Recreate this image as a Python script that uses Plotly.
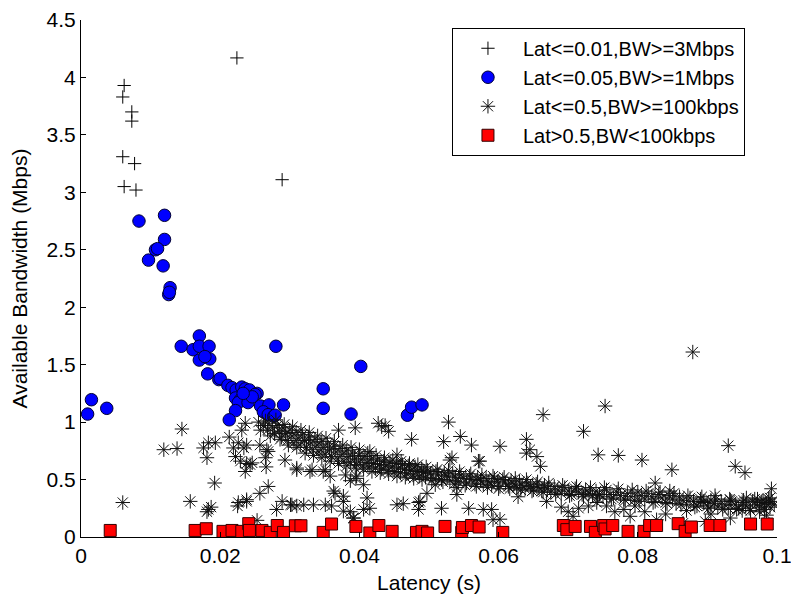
import plotly.graph_objects as go

# ---------------- data ----------------
plus_x = [0.0062, 0.0060, 0.0073, 0.0073, 0.0060, 0.0077, 0.0062, 0.0079, 0.0224, 0.0289]
plus_y = [3.93, 3.83, 3.70, 3.62, 3.31, 3.25, 3.05, 3.02, 4.17, 3.11]

circ_x = [0.00095, 0.0015, 0.0037, 0.00833, 0.0120, 0.0120, 0.0097, 0.0107, 0.0110, 0.0118,
          0.0128, 0.0126, 0.0127, 0.0144, 0.0170, 0.0161, 0.0170, 0.0184, 0.0170, 0.0185,
          0.0178, 0.0182, 0.0198, 0.0200, 0.0211, 0.0217, 0.0223, 0.0231, 0.0236, 0.0242,
          0.0253, 0.0250, 0.0222, 0.0229, 0.0238, 0.0226, 0.0240, 0.0222, 0.0213, 0.0258,
          0.0270, 0.0262, 0.0269, 0.0277, 0.0279, 0.0291, 0.0280, 0.0348, 0.0348, 0.0402,
          0.0388, 0.0469, 0.0475, 0.0490, 0.0246, 0.0233]
circ_y = [1.07, 1.195, 1.12, 2.75, 2.80, 2.59, 2.41, 2.50, 2.51, 2.36,
          2.17, 2.11, 2.13, 1.66, 1.75, 1.63, 1.66, 1.66, 1.54, 1.55,
          1.57, 1.42, 1.37, 1.38, 1.32, 1.30, 1.28, 1.305, 1.29, 1.28,
          1.25, 1.24, 1.21, 1.195, 1.18, 1.17, 1.17, 1.10, 1.02, 1.14,
          1.15, 1.09, 1.065, 1.05, 1.06, 1.15, 1.66, 1.29, 1.12, 1.485,
          1.07, 1.06, 1.13, 1.15, 1.22, 1.25]

# dense band of '*' points (first pass along the band)
band_x = [0.0255, 0.0262, 0.0268, 0.0270, 0.0275, 0.0278, 0.0282, 0.0285, 0.0288, 0.0290,
          0.0294, 0.0297, 0.0300, 0.0303, 0.0306, 0.0309, 0.0312, 0.0315, 0.0318, 0.0321,
          0.0324, 0.0327, 0.0330, 0.0333, 0.0336, 0.0339, 0.0342, 0.0345, 0.0348, 0.0351,
          0.0354, 0.0357, 0.0360, 0.0363, 0.0366, 0.0369, 0.0372, 0.0375, 0.0378, 0.0381,
          0.0384, 0.0387, 0.0390, 0.0393, 0.0396, 0.0399, 0.0402, 0.0405, 0.0408, 0.0411,
          0.0414, 0.0417, 0.0420, 0.0423, 0.0426, 0.0429, 0.0432, 0.0435, 0.0438, 0.0441,
          0.0444, 0.0447, 0.0450, 0.0453, 0.0456, 0.0459, 0.0462, 0.0465, 0.0468, 0.0471,
          0.0474, 0.0477, 0.0480, 0.0483, 0.0486, 0.0489, 0.0492, 0.0495, 0.0498, 0.0502,
          0.0506, 0.0510, 0.0514, 0.0518, 0.0522, 0.0526, 0.0530, 0.0534, 0.0538, 0.0542,
          0.0546, 0.0550, 0.0554, 0.0558, 0.0562, 0.0566, 0.0570, 0.0574, 0.0578, 0.0582,
          0.0586, 0.0590, 0.0594, 0.0598, 0.0602, 0.0606, 0.0610, 0.0614, 0.0618, 0.0622,
          0.0626, 0.0630, 0.0634, 0.0638, 0.0642, 0.0646, 0.0650, 0.0654, 0.0658, 0.0662,
          0.0666, 0.0670, 0.0675, 0.0680, 0.0685, 0.0690, 0.0695, 0.0700, 0.0705, 0.0710,
          0.0715, 0.0720, 0.0725, 0.0730, 0.0735, 0.0740, 0.0745, 0.0750, 0.0755, 0.0760,
          0.0765, 0.0770, 0.0775, 0.0780, 0.0785, 0.0790, 0.0795, 0.0800, 0.0805, 0.0810,
          0.0815, 0.0820, 0.0825, 0.0830, 0.0835, 0.0840, 0.0845, 0.0850, 0.0855, 0.0860,
          0.0865, 0.0870, 0.0875, 0.0880, 0.0885, 0.0890, 0.0895, 0.0900, 0.0905, 0.0910,
          0.0915, 0.0920, 0.0925, 0.0930, 0.0935, 0.0940, 0.0945, 0.0950, 0.0955, 0.0960,
          0.0965, 0.0970, 0.0975, 0.0980, 0.0985, 0.0990, 0.0993, 0.0988, 0.0978, 0.0968]
band_y = [1.00, 0.97, 0.93, 0.99, 0.95, 0.90, 0.97, 0.92, 0.87, 0.95,
          0.90, 0.84, 0.93, 0.88, 0.82, 0.91, 0.86, 0.80, 0.89, 0.84,
          0.78, 0.87, 0.82, 0.76, 0.85, 0.80, 0.74, 0.83, 0.78, 0.72,
          0.81, 0.76, 0.70, 0.79, 0.74, 0.68, 0.77, 0.72, 0.66, 0.75,
          0.70, 0.65, 0.73, 0.68, 0.63, 0.71, 0.67, 0.62, 0.70, 0.65,
          0.61, 0.68, 0.64, 0.60, 0.67, 0.63, 0.59, 0.66, 0.62, 0.58,
          0.65, 0.61, 0.57, 0.64, 0.60, 0.56, 0.63, 0.59, 0.55, 0.62,
          0.58, 0.54, 0.61, 0.57, 0.53, 0.59, 0.56, 0.52, 0.58, 0.55,
          0.51, 0.57, 0.54, 0.50, 0.56, 0.53, 0.49, 0.55, 0.52, 0.48,
          0.54, 0.51, 0.47, 0.53, 0.50, 0.46, 0.52, 0.49, 0.46, 0.51,
          0.48, 0.45, 0.51, 0.48, 0.44, 0.50, 0.47, 0.44, 0.49, 0.46,
          0.43, 0.48, 0.45, 0.42, 0.47, 0.44, 0.41, 0.46, 0.43, 0.40,
          0.45, 0.42, 0.39, 0.44, 0.41, 0.38, 0.43, 0.40, 0.37, 0.42,
          0.39, 0.37, 0.41, 0.38, 0.36, 0.40, 0.37, 0.35, 0.41, 0.37,
          0.34, 0.39, 0.36, 0.33, 0.38, 0.35, 0.32, 0.39, 0.36, 0.33,
          0.38, 0.35, 0.31, 0.37, 0.34, 0.30, 0.36, 0.33, 0.29, 0.35,
          0.32, 0.28, 0.34, 0.31, 0.27, 0.33, 0.30, 0.27, 0.32, 0.29,
          0.26, 0.31, 0.28, 0.25, 0.31, 0.28, 0.25, 0.30, 0.27, 0.25,
          0.31, 0.28, 0.26, 0.32, 0.29, 0.26, 0.31, 0.33, 0.30, 0.33]

# second pass along the band edges
band2_x = [0.0258, 0.0265, 0.0272, 0.0280, 0.0286, 0.0292, 0.0298, 0.0304, 0.0310, 0.0316,
           0.0322, 0.0328, 0.0334, 0.0340, 0.0346, 0.0352, 0.0358, 0.0364, 0.0370, 0.0376,
           0.0382, 0.0388, 0.0394, 0.0400, 0.0406, 0.0412, 0.0418, 0.0424, 0.0430, 0.0436,
           0.0442, 0.0448, 0.0454, 0.0460, 0.0466, 0.0472, 0.0478, 0.0484, 0.0490, 0.0496,
           0.0504, 0.0512, 0.0520, 0.0528, 0.0536, 0.0544, 0.0552, 0.0560, 0.0568, 0.0576,
           0.0584, 0.0592, 0.0600, 0.0608, 0.0616, 0.0624, 0.0632, 0.0640, 0.0648, 0.0656,
           0.0664, 0.0672, 0.0682, 0.0692, 0.0702, 0.0712, 0.0722, 0.0732, 0.0742, 0.0752,
           0.0762, 0.0772, 0.0782, 0.0792, 0.0802, 0.0812, 0.0822, 0.0832, 0.0842, 0.0852,
           0.0862, 0.0872, 0.0882, 0.0892, 0.0902, 0.0912, 0.0922, 0.0932, 0.0942, 0.0952,
           0.0962, 0.0972, 0.0982, 0.0990, 0.0996]
band2_y = [0.93, 1.01, 0.88, 1.02, 0.85, 0.98, 0.80, 0.96, 0.78, 0.93,
           0.73, 0.91, 0.71, 0.88, 0.69, 0.86, 0.66, 0.83, 0.64, 0.80,
           0.62, 0.78, 0.60, 0.76, 0.59, 0.73, 0.57, 0.71, 0.56, 0.69,
           0.55, 0.67, 0.53, 0.66, 0.52, 0.64, 0.51, 0.63, 0.50, 0.61,
           0.49, 0.59, 0.48, 0.58, 0.46, 0.57, 0.45, 0.55, 0.44, 0.54,
           0.43, 0.53, 0.42, 0.52, 0.42, 0.51, 0.41, 0.50, 0.40, 0.48,
           0.39, 0.47, 0.37, 0.45, 0.36, 0.44, 0.35, 0.43, 0.34, 0.43,
           0.33, 0.42, 0.32, 0.41, 0.31, 0.40, 0.30, 0.39, 0.29, 0.38,
           0.28, 0.36, 0.26, 0.35, 0.25, 0.33, 0.24, 0.33, 0.24, 0.32,
           0.23, 0.33, 0.24, 0.34, 0.28]

# scattered '*' points
scat_x = [0.0060, 0.0119, 0.0138, 0.0145, 0.0157, 0.0176, 0.0183, 0.0193, 0.0181, 0.0192,
          0.0183, 0.0181, 0.0187, 0.0213, 0.0236, 0.0231, 0.0219, 0.0226, 0.0234, 0.0238,
          0.0222, 0.0229, 0.0238, 0.0236, 0.0243, 0.0257, 0.0267, 0.0265, 0.0266, 0.0269,
          0.0257, 0.0238, 0.0225, 0.0253, 0.0226, 0.0238, 0.0246, 0.0269, 0.0293, 0.0310,
          0.0289, 0.0281, 0.0303, 0.0301, 0.0310, 0.0320, 0.0334, 0.0351, 0.0360, 0.0377,
          0.0332, 0.0351, 0.0310, 0.0329, 0.0348, 0.0358, 0.0380, 0.0395, 0.0394, 0.0370,
          0.0427, 0.0437, 0.0442, 0.0432, 0.0475, 0.0521, 0.0528, 0.0545, 0.0561, 0.0602,
          0.0533, 0.0571, 0.0454, 0.0415, 0.0509, 0.0497, 0.0540, 0.0540, 0.0365, 0.0377,
          0.0411, 0.0406, 0.0415, 0.0392, 0.0363, 0.0377, 0.0387, 0.0391, 0.0454, 0.0463,
          0.0485, 0.0485, 0.0487, 0.0518, 0.0557, 0.0578, 0.0590, 0.0602, 0.0592, 0.0628,
          0.0669, 0.0700, 0.0707, 0.0729, 0.0741, 0.0755, 0.0767, 0.0789, 0.0796, 0.0827,
          0.0865, 0.0897, 0.0933, 0.0825, 0.0846, 0.0894, 0.0911, 0.0933, 0.0956, 0.0983,
          0.0992, 0.0930, 0.0940, 0.0954, 0.0849, 0.0806, 0.0772, 0.0743, 0.0722, 0.0753,
          0.0664, 0.0640, 0.0645, 0.0640, 0.0655, 0.0660, 0.0879, 0.0406, 0.0387, 0.0396,
          0.0530, 0.0573, 0.0985, 0.0975, 0.0690, 0.0715, 0.0780, 0.0810, 0.0840, 0.0870,
          0.0905, 0.0950]
scat_y = [0.30, 0.76, 0.77, 0.94, 0.31, 0.775, 0.82, 0.82, 0.69, 0.47,
          0.24, 0.22, 0.26, 0.87, 0.99, 0.93, 0.775, 0.82, 0.775, 0.80,
          0.70, 0.66, 0.64, 0.57, 0.63, 0.80, 0.76, 0.69, 0.61, 0.44,
          0.38, 0.31, 0.27, 0.145, 0.30, 0.325, 0.645, 0.745, 0.67, 0.60,
          0.31, 0.24, 0.28, 0.28, 0.27, 0.28, 0.28, 0.28, 0.27, 0.225,
          0.585, 0.585, 0.585, 0.57, 0.57, 0.53, 0.54, 0.51, 0.95, 0.93,
          0.99, 0.97, 0.92, 0.96, 0.85, 0.83, 1.00, 0.875, 0.80, 0.79,
          0.69, 0.66, 0.715, 0.745, 0.455, 0.38, 0.37, 0.43, 0.38, 0.31,
          0.34, 0.24, 0.25, 0.165, 0.40, 0.355, 0.22, 0.165, 0.28, 0.29,
          0.30, 0.24, 0.31, 0.25, 0.25, 0.24, 0.24, 0.155, 0.15, 0.35,
          0.31, 0.22, 0.18, 0.27, 0.30, 0.27, 0.22, 0.18, 0.27, 0.15,
          0.12, 0.135, 0.165, 0.47, 0.40, 0.31, 0.36, 0.32, 0.34, 0.30,
          0.42, 0.795, 0.615, 0.56, 0.585, 0.67, 0.71, 0.715, 0.92, 1.14,
          1.065, 0.85, 0.76, 0.73, 0.70, 0.615, 1.61, 0.455, 0.49, 0.53,
          0.67, 0.66, 0.19, 0.22, 0.26, 0.25, 0.24, 0.22, 0.20, 0.23,
          0.20, 0.23]

star_x = band_x + band2_x + scat_x
star_y = band_y + band2_y + scat_y

sq_x = [0.0042, 0.0164, 0.0180, 0.0204, 0.0217, 0.0231, 0.0241, 0.0242, 0.0260, 0.0272,
        0.0282, 0.0291, 0.0308, 0.0316, 0.0348, 0.0360, 0.0395, 0.0415, 0.0428, 0.0447,
        0.0482, 0.0490, 0.0498, 0.0523, 0.0547, 0.0548, 0.0561, 0.0572, 0.0606, 0.0693,
        0.0698, 0.0710, 0.0732, 0.0739, 0.0751, 0.0753, 0.0764, 0.0786, 0.0809, 0.0817,
        0.0827, 0.0858, 0.0868, 0.0877, 0.0904, 0.0918, 0.0962, 0.0986]
sq_y = [0.057, 0.057, 0.072, 0.049, 0.057, 0.049, 0.116, 0.057, 0.057, 0.040,
        0.100, 0.040, 0.098, 0.098, 0.040, 0.113, 0.092, 0.035, 0.100, 0.049,
        0.040, 0.049, 0.035, 0.092, 0.040, 0.083, 0.100, 0.087, 0.040, 0.100,
        0.064, 0.092, 0.092, 0.040, 0.100, 0.070, 0.100, 0.049, 0.049, 0.100,
        0.100, 0.116, 0.049, 0.087, 0.100, 0.100, 0.113, 0.113]

names = ["Lat<=0.01,BW>=3Mbps", "Lat<=0.05,BW>=1Mbps",
         "Lat<=0.5,BW>=100kbps", "Lat>0.5,BW<100kbps"]

x_ticks = [0, 0.02, 0.04, 0.06, 0.08, 0.1]
x_ticktext = ["0", "0.02", "0.04", "0.06", "0.08", "0.1"]
y_ticks = [0, 0.5, 1, 1.5, 2, 2.5, 3, 3.5, 4, 4.5]
y_ticktext = ["0", "0.5", "1", "1.5", "2", "2.5", "3", "3.5", "4", "4.5"]

FONT = "Arial, Liberation Sans, sans-serif"
FS = 21

fig = go.Figure()
fig.add_trace(go.Scatter(
    x=plus_x, y=plus_y, mode="markers", name=names[0],
    marker=dict(symbol="cross-thin-open", size=9.5, color="black",
                line=dict(color="black", width=1))))
fig.add_trace(go.Scatter(
    x=circ_x, y=circ_y, mode="markers", name=names[1],
    marker=dict(symbol="circle", size=12.5, color="#0000FF",
                line=dict(color="#000033", width=1))))
fig.add_trace(go.Scatter(
    x=star_x, y=star_y, mode="markers", name=names[2],
    marker=dict(symbol="asterisk-open", size=12, color="#111111",
                line=dict(color="#111111", width=1))))
fig.add_trace(go.Scatter(
    x=sq_x, y=sq_y, mode="markers", name=names[3],
    marker=dict(symbol="square", size=12, color="#FF0000",
                line=dict(color="#330000", width=1))))

fig.update_layout(
    width=791, height=594,
    margin=dict(l=81, r=14, t=20, b=57, autoexpand=False),
    paper_bgcolor="white", plot_bgcolor="white",
    font=dict(family=FONT, size=FS, color="black"),
    showlegend=True,
    legend=dict(x=0.533, y=0.985, xanchor="left", yanchor="top",
                bordercolor="black", borderwidth=1, bgcolor="white",
                font=dict(family=FONT, size=20, color="black"),
                itemwidth=60, tracegroupgap=0,
                entrywidth=278, entrywidthmode="pixels"),
    xaxis=dict(range=[0, 0.1], tickvals=x_ticks, ticktext=x_ticktext,
               showgrid=False, zeroline=False, showline=True, linecolor="black",
               linewidth=1, ticks="inside", ticklen=5, tickcolor="black",
               ticklabeloverflow="allow", automargin=False,
               title=dict(text="Latency (s)", font=dict(size=FS), standoff=9),
               tickfont=dict(size=FS)),
    yaxis=dict(range=[0, 4.5], tickvals=y_ticks, ticktext=y_ticktext,
               showgrid=False, zeroline=False, showline=True, linecolor="black",
               linewidth=1, ticks="inside", ticklen=5, tickcolor="black",
               automargin=False,
               title=dict(text="Available Bandwidth (Mbps)", font=dict(size=FS), standoff=13),
               tickfont=dict(size=FS)),
)

fig.write_html("out.html")
